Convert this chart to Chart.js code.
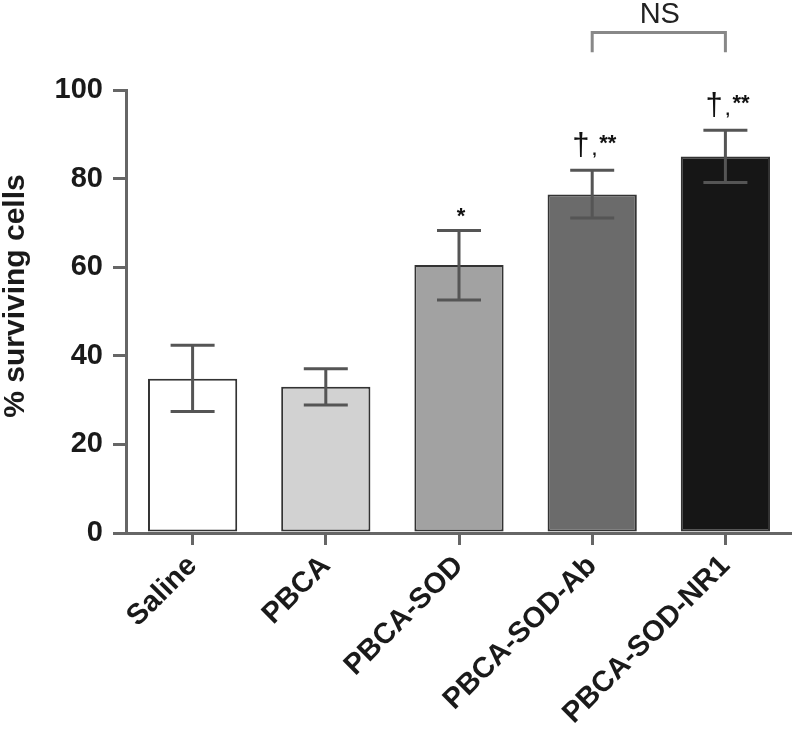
<!DOCTYPE html>
<html>
<head>
<meta charset="utf-8">
<script src="https://cdn.jsdelivr.net/npm/chart.js@4"></script>
<style>
  html, body { margin: 0; padding: 0; background: #fff; }
  #chart { display: block; }
</style>
</head>
<body>
<canvas id="chart" width="792" height="735"></canvas>
<script>
// data
const categories = ['Saline', 'PBCA', 'PBCA-SOD', 'PBCA-SOD-Ab', 'PBCA-SOD-NR1'];
const meanValues = [34.8, 33.0, 60.5, 76.4, 85.0];
const errLow = [27.4, 28.9, 52.6, 71.1, 79.1];
const errHigh = [42.4, 37.1, 68.3, 81.9, 90.9];
const daggerMarks = ['', '', '', '†', '†'];
const starMarks = ['', '', '*', '**', '**'];
const barColors = ['#ffffff', '#d2d2d2', '#a2a2a2', '#6b6b6b', '#161616'];
const yTicks = [0, 20, 40, 60, 80, 100];
const yTitle = '% surviving cells';
const nsPair = [3, 4];
const nsLabel = 'NS';

const FONT = '"Liberation Sans", Arial, Helvetica, sans-serif';

// error bars, significance marks, NS bracket, y title
const extrasPlugin = {
    id: 'extras',
    afterDatasetsDraw(chart) {
        const ctx = chart.ctx;
        const x = chart.scales.x;
        const y = chart.scales.y;
        ctx.save();

        // error bars
        ctx.strokeStyle = '#555';
        ctx.lineWidth = 3;
        categories.forEach((c, i) => {
            const cx = x.getPixelForValue(i);
            const top = y.getPixelForValue(errHigh[i]);
            const bot = y.getPixelForValue(errLow[i]);
            ctx.beginPath();
            ctx.moveTo(cx, top); ctx.lineTo(cx, bot);
            ctx.moveTo(cx - 22, top); ctx.lineTo(cx + 22, top);
            ctx.moveTo(cx - 22, bot); ctx.lineTo(cx + 22, bot);
            ctx.stroke();
        });

        // significance marks
        ctx.fillStyle = '#111';
        ctx.textAlign = 'left';
        ctx.textBaseline = 'alphabetic';
        categories.forEach((c, i) => {
            const cx = x.getPixelForValue(i);
            const cap = y.getPixelForValue(errHigh[i]);
            if (daggerMarks[i]) {
                ctx.font = '31px ' + FONT;
                ctx.fillText(daggerMarks[i], cx - 20, cap - 15);
                ctx.font = 'bold 16px ' + FONT;
                ctx.fillText(',', cx + 0, cap - 15);
                ctx.font = 'bold 22px ' + FONT;
                ctx.fillText(starMarks[i], cx + 7, cap - 20);
            } else if (starMarks[i]) {
                ctx.font = 'bold 22px ' + FONT;
                ctx.textAlign = 'center';
                ctx.fillText(starMarks[i], cx + 2, cap - 7);
                ctx.textAlign = 'left';
            }
        });

        // NS bracket
        const x1 = x.getPixelForValue(nsPair[0]);
        const x2 = x.getPixelForValue(nsPair[1]);
        const yb = y.getPixelForValue(113);
        const yl = y.getPixelForValue(108.5);
        ctx.strokeStyle = '#888';
        ctx.lineWidth = 3;
        ctx.beginPath();
        ctx.moveTo(x1, yl); ctx.lineTo(x1, yb); ctx.lineTo(x2, yb); ctx.lineTo(x2, yl);
        ctx.stroke();
        ctx.font = '29px ' + FONT;
        ctx.fillStyle = '#222';
        ctx.textAlign = 'center';
        ctx.textBaseline = 'middle';
        ctx.fillText(nsLabel, (x1 + x2) / 2 + 1, y.getPixelForValue(116.9));

        // y title, sits a little above the axis middle in the original
        ctx.translate(16, y.getPixelForValue(53.5));
        ctx.rotate(-Math.PI / 2);
        ctx.font = 'bold 30px ' + FONT;
        ctx.fillStyle = '#1a1a1a';
        ctx.fillText(yTitle, 0, 0);

        ctx.restore();
    }
};

const ctx = document.getElementById('chart').getContext('2d');
const chart = new Chart(ctx, {
    type: 'bar',
    data: {
        labels: categories,
        datasets: [{
            data: meanValues,
            backgroundColor: barColors,
            borderColor: '#333',
            borderWidth: 2,
            borderSkipped: false,
            barPercentage: 0.67,
            categoryPercentage: 1
        }]
    },
    options: {
        responsive: false,
        animation: false,
        devicePixelRatio: 1,
        layout: { padding: { top: 90, left: 0, right: 0, bottom: 0 } },
        plugins: { legend: { display: false }, tooltip: { enabled: false } },
        scales: {
            y: {
                min: 0,
                max: 100,
                afterBuildTicks: (s) => { s.ticks = yTicks.map(v => ({ value: v })); },
                afterFit: (s) => { s.width = 126; },
                ticks: { font: { family: FONT, size: 29, weight: 'bold' }, color: '#1a1a1a', padding: 10 },
                grid: { drawOnChartArea: false, tickLength: 13, color: '#666', lineWidth: 3 },
                border: { color: '#666', width: 3 }
            },
            x: {
                afterFit: (s) => { s.height = 202; },
                ticks: {
                    maxRotation: 45, minRotation: 45,
                    font: { family: FONT, size: 29, weight: 'bold' },
                    color: '#1a1a1a',
                    padding: 4
                },
                grid: { drawOnChartArea: false, tickLength: 12, color: '#666', lineWidth: 3, offset: false },
                border: { color: '#666', width: 3 }
            }
        }
    },
    plugins: [extrasPlugin]
});
</script>
</body>
</html>
